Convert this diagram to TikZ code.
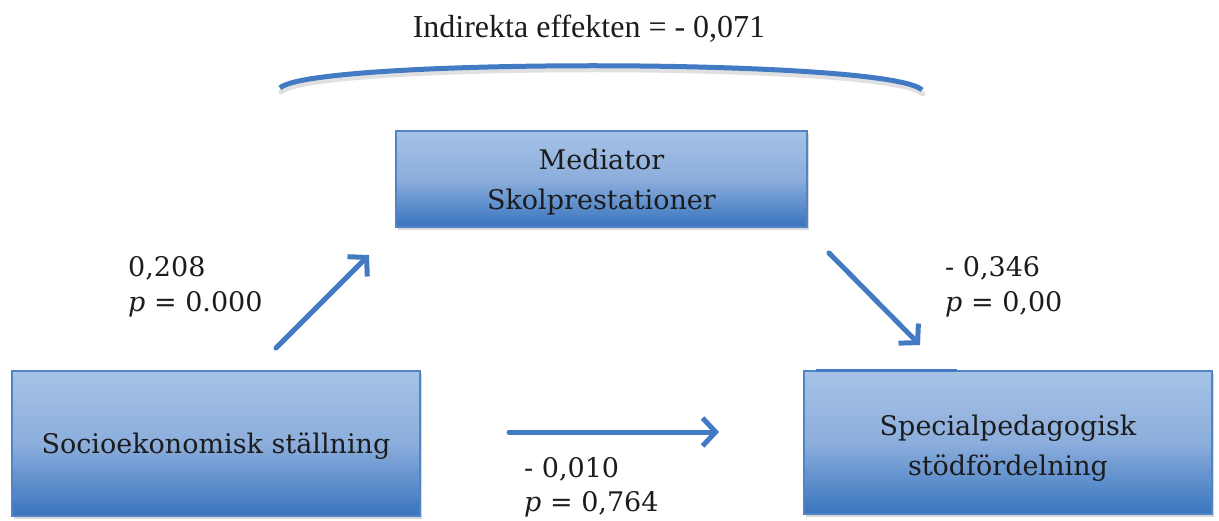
\documentclass[tikz,border=0pt]{standalone}
\usepackage{fontspec}
\setmainfont{DejaVu Serif}
\newfontfamily\titlefont{Liberation Serif}
\usetikzlibrary{arrows.meta,shadows}
\definecolor{linkblue}{RGB}{66,123,196}
\definecolor{boxtop}{RGB}{166,194,230}
\definecolor{boxmid}{RGB}{140,174,220}
\definecolor{boxbot}{RGB}{56,116,190}
\definecolor{boxline}{RGB}{80,132,196}
\definecolor{txt}{RGB}{28,28,30}
\begin{document}
\begin{tikzpicture}[x=1pt,y=-1pt,
  box/.style={draw=boxline, line width=1.2pt, top color=boxtop, bottom color=boxbot, middle color=boxmid,
    drop shadow={shadow xshift=2pt, shadow yshift=-2.5pt, opacity=0.3}, inner sep=0pt},
  boxtext/.style={font=\fontsize{27}{40}\selectfont, text=txt, align=center, inner sep=0pt},
  conn/.style={draw=linkblue, line width=5pt, line cap=round,
    -{Straight Barb[length=13pt,width=28pt,line width=5pt]}},
  lab/.style={font=\fontsize{27}{36}\selectfont, text=txt, anchor=base west, inner sep=0pt}]
\useasboundingbox (0,0) rectangle (1219,520);

% title and brace-like arc
\node[font=\titlefont\fontsize{32}{38}\selectfont, text=txt, anchor=base, inner sep=0pt] (title) at (589,37) {Indirekta effekten = - 0,071};
\draw[black, opacity=0.12, line width=5pt, line cap=round] (281,92) .. controls (311,62) and (891,62) .. (923,94);
\draw[linkblue, line width=5pt] (280,88) .. controls (310,58) and (890,58) .. (922,90);

% boxes
\node[box, minimum width=408pt, minimum height=145pt] (ses) at (216,443.5) {};
\node[box, minimum width=408pt, minimum height=143pt] (stod) at (1008,442.5) {};
\node[box, minimum width=411pt, minimum height=96pt] (med) at (601.5,179) {};
\draw[color=linkblue, line width=3pt] ([xshift=13pt]stod.north west) -- ([xshift=154pt]stod.north west);

\node[boxtext] (sestext) at ([yshift=-3pt]ses.center) {Socioekonomisk ställning};
\node[boxtext] (stodtext) at ([yshift=-6pt]stod.center) {Specialpedagogisk\\stödfördelning};
\node[boxtext] (medtext) at ([yshift=-3pt]med.center) {Mediator\\Skolprestationer};

% arrows
\coordinate (a1s) at (276,348); \coordinate (a1e) at (369,255);
\coordinate (a2s) at (829,253); \coordinate (a2e) at (920,345);
\coordinate (a3s) at (509,432); \coordinate (a3e) at (719,432);
\draw[conn] (a1s) -- (a1e);
\draw[conn] (a2s) -- (a2e);
\draw[conn] (a3s) -- (a3e);

% labels
\node[lab] (l1a) at (128,276) {0,208};
\node[lab] (l1b) at (128,311) {\textit{p} = 0.000};
\node[lab] (l2a) at (945,276) {- 0,346};
\node[lab] (l2b) at (945,311) {\textit{p} = 0,00};
\node[lab] (l3a) at (524,477) {- 0,010};
\node[lab] (l3b) at (524,511) {\textit{p} = 0,764};
\end{tikzpicture}
\end{document}
